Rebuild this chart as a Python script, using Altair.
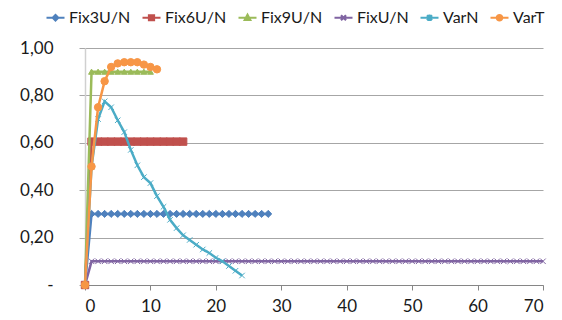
import altair as alt
import pandas as pd

series = ["Fix3U/N", "Fix6U/N", "Fix9U/N", "FixU/N", "VarN", "VarT"]
colors = ["#4F81BD", "#C0504D", "#9BBB59", "#8064A2", "#4BACC6", "#F79646"]

fix3_y = [0.00, 0.30, 0.30, 0.30, 0.30, 0.30, 0.30, 0.30, 0.30, 0.30,
          0.30, 0.30, 0.30, 0.30, 0.30, 0.30, 0.30, 0.30, 0.30, 0.30,
          0.30, 0.30, 0.30, 0.30, 0.30, 0.30, 0.30, 0.30, 0.30]
fix6_y = [0.00, 0.605, 0.605, 0.605, 0.605, 0.605, 0.605, 0.605, 0.605,
          0.605, 0.605, 0.605, 0.605, 0.605, 0.605, 0.605]
fix9_y = [0.00, 0.90, 0.90, 0.90, 0.90, 0.90, 0.90, 0.90, 0.90, 0.90, 0.90]
fixu_y = [0.00, 0.10, 0.10, 0.10, 0.10, 0.10, 0.10, 0.10, 0.10, 0.10,
          0.10, 0.10, 0.10, 0.10, 0.10, 0.10, 0.10, 0.10, 0.10, 0.10,
          0.10, 0.10, 0.10, 0.10, 0.10, 0.10, 0.10, 0.10, 0.10, 0.10,
          0.10, 0.10, 0.10, 0.10, 0.10, 0.10, 0.10, 0.10, 0.10, 0.10,
          0.10, 0.10, 0.10, 0.10, 0.10, 0.10, 0.10, 0.10, 0.10, 0.10,
          0.10, 0.10, 0.10, 0.10, 0.10, 0.10, 0.10, 0.10, 0.10, 0.10,
          0.10, 0.10, 0.10, 0.10, 0.10, 0.10, 0.10, 0.10, 0.10, 0.10,
          0.10]
varn_y = [0.00, 0.50, 0.70, 0.775, 0.75, 0.695, 0.645, 0.57, 0.505, 0.455,
          0.43, 0.375, 0.33, 0.275, 0.24, 0.21, 0.19, 0.17, 0.15, 0.135,
          0.115, 0.10, 0.08, 0.06, 0.04]
vart_y = [0.00, 0.50, 0.75, 0.86, 0.92, 0.935, 0.94, 0.94, 0.94, 0.93, 0.92, 0.91]

all_y = [fix3_y, fix6_y, fix9_y, fixu_y, varn_y, vart_y]

rows = []
for name, ys in zip(series, all_y):
    for i, v in enumerate(ys):
        rows.append({"series": name, "lg": name, "x": i, "y": v})
df = pd.DataFrame(rows)

FONT = "Lato"

xenc = alt.X(
    "x:Q",
    scale=alt.Scale(domain=[0, 70], nice=False, zero=True),
    axis=alt.Axis(values=[0, 10, 20, 30, 40, 50, 60, 70], grid=False, title=None,
                  domainColor="#868686", tickColor="#868686", tickSize=5,
                  labelPadding=8, labelFont=FONT, labelFontSize=17,
                  labelColor="#1a1a1a"),
)
yenc = alt.Y(
    "y:Q",
    scale=alt.Scale(domain=[0, 1], nice=False),
    axis=alt.Axis(values=[0, 0.2, 0.4, 0.6, 0.8, 1.0], grid=True, title=None,
                  gridColor="#A6A6A6", domainColor="#D0D0D0", domainWidth=1.5,
                  tickColor="#A6A6A6", tickSize=6, labelPadding=26,
                  labelFont=FONT, labelFontSize=17, labelColor="#1a1a1a",
                  labelExpr="datum.value == 0 ? '-\u2002' : replace(format(datum.value, '.2f'), '.', ',')"),
)

X_PATH = "M-1,-1L1,1M-1,1L1,-1"
point_shapes = ["diamond", "square", "triangle-up", X_PATH, X_PATH, "circle"]
point_sizes = [50, 55, 35, 30, 30, 55]

layers = []
for name, col, shp, sz in zip(series, colors, point_shapes, point_sizes):
    base = alt.Chart(df).transform_filter(alt.datum.series == name)
    layers.append(base.mark_line(color=col, strokeWidth=2.5).encode(x=xenc, y=yenc))
    layers.append(base.mark_point(shape=shp, size=sz, filled=True, fill=col, stroke=col,
                                  strokeWidth=1, opacity=1).encode(x=xenc, y=yenc))

legend_paths = [
    "M-1,0H1M0,-0.3L0.3,0L0,0.3L-0.3,0Z",
    "M-1,0H1M-0.28,-0.28H0.28V0.28H-0.28Z",
    "M-1,0H1M0,-0.32L0.3,0.24H-0.3Z",
    "M-1,0H1M-0.28,-0.28L0.28,0.28M-0.28,0.28L0.28,-0.28",
    "M-1,0H1M-0.28,-0.28L0.28,0.28M-0.28,0.28L0.28,-0.28M0,-0.36V0.36",
    "M-1,0H1M0.3,0A0.3,0.3 0 1,1 -0.3,0A0.3,0.3 0 1,1 0.3,0Z",
]

leg = alt.Legend(orient="none", legendX=-40, legendY=-41, direction="horizontal",
                 columns=6, title=None, labelFont=FONT, labelFontSize=16,
                 labelColor="#1a1a1a", symbolStrokeWidth=2.2, symbolSize=324,
                 columnPadding=7, labelOffset=3, symbolOpacity=1)

legend_layer = alt.Chart(df).transform_filter("false").mark_point(
    filled=True, size=324, strokeWidth=2.2, opacity=1
).encode(
    x=xenc, y=yenc,
    fill=alt.Fill("lg:N", scale=alt.Scale(domain=series, range=colors), legend=leg),
    stroke=alt.Stroke("lg:N", scale=alt.Scale(domain=series, range=colors), legend=leg),
    shape=alt.Shape("lg:N", scale=alt.Scale(domain=series, range=legend_paths), legend=leg),
)

chart = alt.layer(*layers, legend_layer).properties(
    width=458, height=237,
    autosize=alt.AutoSizeParams(type="none"),
    padding={"left": 77, "top": 40, "right": 11, "bottom": 35},
    background="white",
).configure_view(stroke=None)

chart.save("out.html", embed_options={"renderer": "svg", "actions": False})
